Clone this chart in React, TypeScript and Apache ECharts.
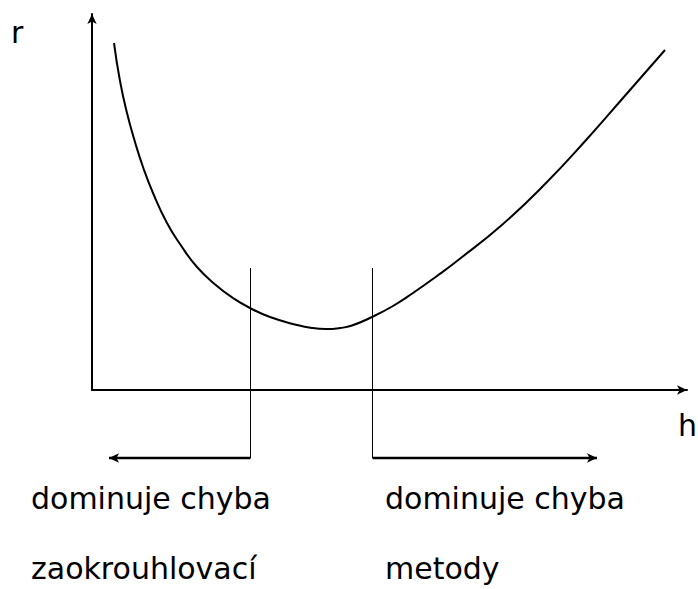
import React, { useEffect, useRef } from "react";
import * as echarts from "echarts";

// curve r(h) (arbitrary units)
const curveH = [22, 28, 35, 43, 51, 61, 75, 88, 105, 125, 141, 158, 178, 205, 220, 234, 248, 260, 280, 301, 321, 345, 365, 411, 455, 495, 531, 573];
const curveR = [347, 309, 277, 248, 223, 197, 167, 146, 123, 104, 92, 82, 73, 65, 62, 61, 62, 64.5, 73, 84, 97, 114, 129, 166, 208, 251, 292, 340];

// boundaries between the two regions
const leftBoundaryH = 158.5;
const rightBoundaryH = 280.5;
const boundaryTop = 122;
const arrowLevel = -68;
const leftArrowEnd = 17;
const rightArrowEnd = 505;

const axisNameY = "r";
const axisNameX = "h";
const leftLabel = ["dominuje chyba", "zaokrouhlovací"];
const rightLabel = ["dominuje chyba", "metody"];

const FONT = "'DejaVu Sans', sans-serif";

export default function App() {
  const ref = useRef<HTMLDivElement>(null);
  useEffect(() => {
    if (!ref.current) return;
    const chart = echarts.init(ref.current, null, { renderer: "svg" });
    const textStyle = (t: string, x: number, y: number) => ({
      type: "text",
      left: x,
      top: y,
      style: { text: t, fill: "#000", font: `30px ${FONT}` },
    });
    const axisCommon = {
      type: "value",
      axisTick: { show: false },
      axisLabel: { show: false },
      splitLine: { show: false },
    };
    chart.setOption({
      animation: false,
      backgroundColor: "#fff",
      grid: { left: 92, right: 11, top: 14, bottom: 199 },
      xAxis: {
        ...axisCommon,
        min: 0,
        max: 595,
        axisLine: { show: true, onZero: true, symbol: ["none", "arrow"], symbolSize: [7, 10], lineStyle: { color: "#000", width: 2 } },
      },
      yAxis: {
        ...axisCommon,
        min: 0,
        max: 376,
        axisLine: { show: true, symbol: ["none", "arrow"], symbolSize: [7, 10], lineStyle: { color: "#000", width: 2 } },
      },
      series: [
        {
          type: "line",
          data: curveH.map((h, i) => [h, curveR[i]]),
          smooth: true,
          showSymbol: false,
          lineStyle: { color: "#000", width: 2 },
          silent: true,
        },
        {
          type: "line",
          clip: false,
          data: [[leftBoundaryH, boundaryTop], [leftBoundaryH, arrowLevel]],
          showSymbol: false,
          lineStyle: { color: "#000", width: 1 },
          silent: true,
        },
        {
          type: "line",
          clip: false,
          data: [[rightBoundaryH, boundaryTop], [rightBoundaryH, arrowLevel]],
          showSymbol: false,
          lineStyle: { color: "#000", width: 1 },
          silent: true,
        },
        {
          type: "line",
          clip: false,
          data: [
            { value: [leftBoundaryH, arrowLevel], symbol: "none" },
            { value: [leftArrowEnd, arrowLevel], symbol: "arrow", symbolSize: [7, 10], symbolRotate: 90 },
          ],
          showSymbol: true,
          itemStyle: { color: "#000" },
          lineStyle: { color: "#000", width: 2.5 },
          silent: true,
        },
        {
          type: "line",
          clip: false,
          data: [
            { value: [rightBoundaryH, arrowLevel], symbol: "none" },
            { value: [rightArrowEnd, arrowLevel], symbol: "arrow", symbolSize: [7, 10], symbolRotate: -90 },
          ],
          showSymbol: true,
          itemStyle: { color: "#000" },
          lineStyle: { color: "#000", width: 2.5 },
          silent: true,
        },
      ],
      graphic: [
        textStyle(axisNameY, 11, 17),
        textStyle(axisNameX, 678, 410),
        textStyle(leftLabel[0], 31, 483),
        textStyle(leftLabel[1], 31, 553),
        textStyle(rightLabel[0], 385, 483),
        textStyle(rightLabel[1], 385, 553),
      ],
    });
    return () => chart.dispose();
  }, []);
  return (
    <div
      ref={ref}
      style={{ position: "fixed", left: 0, top: 0, width: 698, height: 589 }}
    />
  );
}
